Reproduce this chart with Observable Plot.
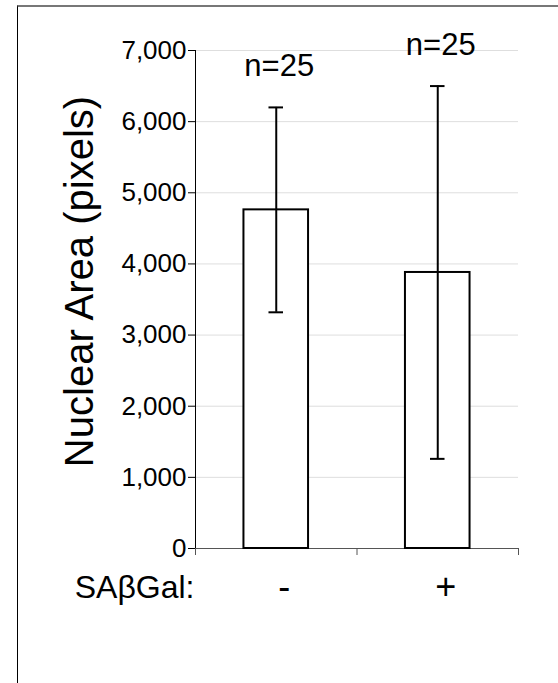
<!DOCTYPE html>
<html>
<head>
<meta charset="utf-8">
<script src="https://cdn.jsdelivr.net/npm/d3@7"></script>
<script src="https://cdn.jsdelivr.net/npm/@observablehq/plot@0.6"></script>
<style>
  html, body { margin: 0; padding: 0; background: #fff; }
  #wrap { position: relative; width: 558px; height: 683px; overflow: hidden; }
  #frame { position: absolute; left: 17px; top: 5px; right: -5px; bottom: -5px;
           border-top: 2px solid #777; border-left: 1.5px solid #000; pointer-events: none; }
  svg { position: absolute; left: 0; top: 0; }
</style>
</head>
<body>
<div id="wrap"><div id="frame"></div></div>
<script>
const categories = ["-", "+"];
const means = [4760, 3880];
const errors = [1440, 2620];
const counts = [25, 25];
const yTicks = [0, 1000, 2000, 3000, 4000, 5000, 6000, 7000];
const xLabel = "SAβGal:";
const yLabel = "Nuclear Area (pixels)";

const data = categories.map((c, i) => ({i, cat: c, mean: means[i], err: errors[i], n: counts[i]}));
const pad = 0.3;   // bar inset within each category slot
const cap = 0.045; // half width of error caps

const chart = Plot.plot({
  width: 558,
  height: 683,
  marginLeft: 195,
  marginRight: 40,
  marginTop: 50,
  marginBottom: 135,
  style: {fontFamily: "'Liberation Sans', Arial, sans-serif", background: "transparent", color: "#000"},
  x: {type: "linear", domain: [0, categories.length]},
  y: {domain: [0, 7000]},
  marks: [
    Plot.ruleY(yTicks.filter(t => t > 0), {stroke: "#dedede", strokeWidth: 1}),
    Plot.ruleY([0], {stroke: "#555", strokeWidth: 1}),
    Plot.ruleX([0], {y1: 0, y2: 7000, stroke: "#000", strokeWidth: 1}),
    Plot.axisY({ticks: yTicks, tickFormat: d3.format(","), tickSize: 7, tickPadding: 2, fontSize: 26, label: null, stroke: "#000"}),
    Plot.axisX({ticks: d3.range(categories.length + 1), tickFormat: () => "", tickSize: 7, label: null, stroke: "#555"}),
    Plot.rectY(data, {x1: d => d.i + pad, x2: d => d.i + 1 - pad, y: "mean", fill: "#fff", stroke: "#000", strokeWidth: 2}),
    Plot.ruleX(data, {x: d => d.i + 0.5, y1: d => d.mean - d.err, y2: d => d.mean + d.err, stroke: "#000", strokeWidth: 2}),
    Plot.ruleY(data, {y: d => d.mean + d.err, x1: d => d.i + 0.5 - cap, x2: d => d.i + 0.5 + cap, stroke: "#000", strokeWidth: 2}),
    Plot.ruleY(data, {y: d => d.mean - d.err, x1: d => d.i + 0.5 - cap, x2: d => d.i + 0.5 + cap, stroke: "#000", strokeWidth: 2}),
    Plot.text(data, {x: d => d.i + 0.5, y: d => d.mean + d.err, text: d => `n=${d.n}`, dx: 3, dy: -31, lineAnchor: "bottom", fontSize: 31, fill: "#000"}),
    Plot.text(data, {x: d => d.i + 0.5, text: "cat", frameAnchor: "bottom", dx: 8, dy: 50, lineAnchor: "bottom", fontSize: 36, fill: "#000"}),
    Plot.text([xLabel], {frameAnchor: "bottom-left", textAnchor: "end", dx: -1, dy: 49, lineAnchor: "bottom", fontSize: 32, fill: "#000"}),
    Plot.text([yLabel], {frameAnchor: "left", textAnchor: "middle", rotate: -90, dx: -115, dy: -18, lineAnchor: "middle", fontSize: 40, fill: "#000"})
  ]
});
document.getElementById("wrap").insertBefore(chart, document.getElementById("frame"));
</script>
</body>
</html>
